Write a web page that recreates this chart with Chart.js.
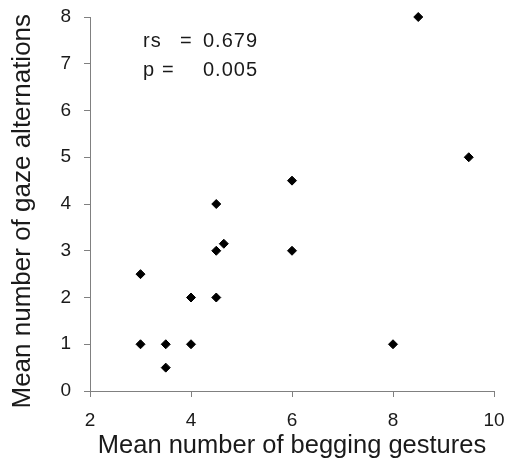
<!DOCTYPE html>
<html>
<head>
<meta charset="utf-8">
<script src="https://cdn.jsdelivr.net/npm/chart.js@4"></script>
<style>
  html, body { margin: 0; padding: 0; background: #fff; }
  #wrap { width: 509px; height: 464px; }
</style>
</head>
<body>
<div id="wrap"><canvas id="c" width="509" height="464"></canvas></div>
<script>
// begging gestures (x) vs gaze alternations (y)
const beggingGestures = [8.5, 9.5, 6, 4.5, 4.65, 4.5, 6, 3, 4, 4.5, 3, 3.5, 4, 8, 3.5];
const gazeAlternations = [8, 5, 4.5, 4, 3.15, 3, 3, 2.5, 2, 2, 1, 1, 1, 1, 0.5];
const xTicks = [2, 4, 6, 8, 10];
const yTicks = [0, 1, 2, 3, 4, 5, 6, 7, 8];
const statLines = [["rs", "=", "0.679"], ["p", "=", "0.005"]];

const axisColor = '#808080';
const textColor = '#1a1a1a';
const fontFamily = '"Liberation Sans", Arial, sans-serif';

// rs / p annotation in the upper left
const statsText = {
  id: 'statsText',
  afterDraw(chart) {
    const ctx = chart.ctx;
    ctx.save();
    ctx.fillStyle = textColor;
    ctx.font = '20px ' + fontFamily;
    ctx.letterSpacing = '1px';
    ctx.textBaseline = 'middle';
    ctx.textAlign = 'left';
    ctx.fillText(statLines[0][0], 143, 41);
    ctx.fillText(statLines[0][1], 180, 41);
    ctx.fillText(statLines[0][2], 203, 41);
    ctx.fillText(statLines[1][0], 143, 70);
    ctx.fillText(statLines[1][1], 162, 70);
    ctx.fillText(statLines[1][2], 203, 70);
    ctx.restore();
  }
};

new Chart(document.getElementById('c').getContext('2d'), {
  type: 'scatter',
  data: {
    datasets: [{
      data: beggingGestures.map((x, i) => ({ x: x, y: gazeAlternations[i] })),
      pointStyle: 'rectRot',
      pointRadius: 4.5,
      pointBackgroundColor: '#000',
      pointBorderColor: '#000',
      pointBorderWidth: 1,
      clip: false
    }]
  },
  options: {
    responsive: false,
    animation: false,
    layout: { padding: { left: 0, top: 17, right: 15, bottom: 0 } },
    plugins: { legend: { display: false }, tooltip: { enabled: false } },
    scales: {
      x: {
        type: 'linear',
        min: 2, max: 10,
        afterBuildTicks: (s) => { s.ticks = xTicks.map(v => ({ value: v })); },
        afterFit: (s) => { s.height = 73; s.paddingLeft = 0; s.paddingRight = 0; },
        grid: { drawOnChartArea: false, drawTicks: true, tickLength: 6, color: axisColor },
        border: { color: axisColor, width: 1 },
        ticks: { color: textColor, font: { size: 19, family: fontFamily }, padding: 12 },
        title: { display: true, text: 'Mean number of begging gestures', color: textColor,
                 font: { size: 25.5, family: fontFamily }, padding: { top: 0, bottom: 2.5 } }
      },
      y: {
        type: 'linear',
        min: 0, max: 8,
        afterBuildTicks: (s) => { s.ticks = yTicks.map(v => ({ value: v })); },
        afterFit: (s) => { s.width = 90; s.paddingTop = 0; s.paddingBottom = 0; },
        grid: { drawOnChartArea: false, drawTicks: true, tickLength: 6, color: axisColor },
        border: { color: axisColor, width: 1 },
        ticks: { color: textColor, font: { size: 19, family: fontFamily }, padding: 13 },
        title: { display: true, text: 'Mean number of gaze alternations  ', color: textColor,
                 font: { size: 26, family: fontFamily }, padding: { top: 7.5, bottom: 0 } }
      }
    }
  },
  plugins: [statsText]
});
</script>
</body>
</html>
